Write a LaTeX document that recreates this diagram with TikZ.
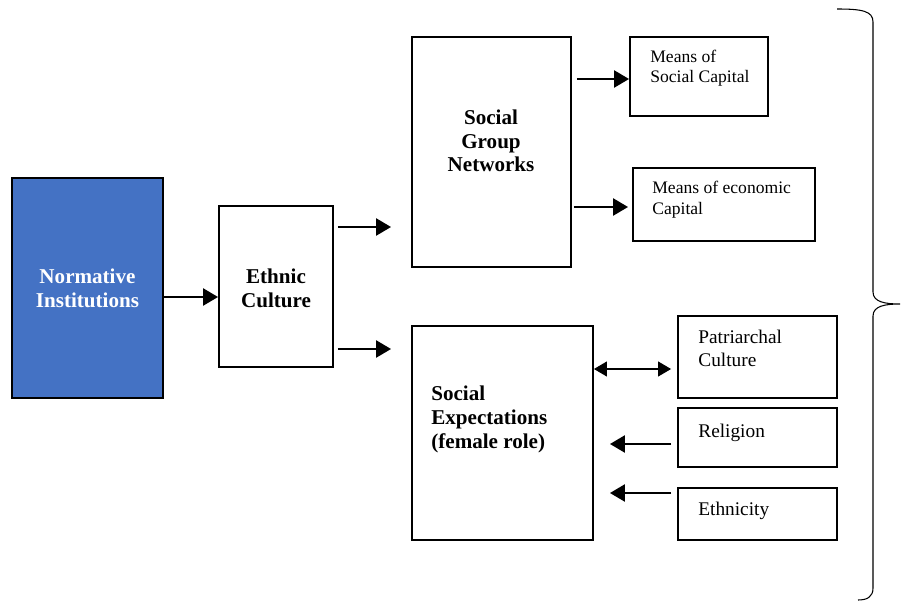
\documentclass[tikz,border=0pt]{standalone}
\usepackage{fontspec}
\setmainfont{Liberation Serif}
\usetikzlibrary{arrows.meta}
\definecolor{normblue}{RGB}{68,114,196}
\begin{document}
\begin{tikzpicture}[x = 0.02cm, y = -0.02cm,
        blk/.style = {draw, line width = 1.1pt, inner sep = 0pt},
        boldlbl/.style = {font = \fontsize{12}{13.6}\selectfont\bfseries, inner sep = 0pt},
        smalllbl/.style = {font = \fontsize{10}{11.5}\selectfont, align = left, inner sep = 0pt, anchor = base west},
        midlbl/.style = {font = \fontsize{11}{12.6}\selectfont, align = left, inner sep = 0pt, anchor = base west},
        thickarr/.style = {line width = 1.4pt, -{Triangle[length = 0.3cm, width = 0.34cm]}},
        dblarr/.style = {line width = 0.6pt, {Triangle[length = 0.26cm, width = 0.3cm]}-{Triangle[length = 0.26cm, width = 0.3cm]}}]
    \useasboundingbox (0,0) rectangle (901,601);
    \node[blk, fill = normblue, minimum width = 3.02cm, minimum height = 4.4cm] (norm) at (87.5, 288) {};
    \node[blk, minimum width = 2.28cm, minimum height = 3.22cm] (ethnic) at (276, 286.5) {};
    \node[blk, minimum width = 3.18cm, minimum height = 4.6cm] (sgn) at (491.5, 152) {};
    \node[blk, minimum width = 3.62cm, minimum height = 4.28cm] (se) at (502.5, 433) {};
    \node[blk, minimum width = 2.76cm, minimum height = 1.58cm] (msc) at (699, 76.5) {};
    \node[blk, minimum width = 3.64cm, minimum height = 1.45cm] (mec) at (724, 204.5) {};
    \node[blk, minimum width = 3.18cm, minimum height = 1.64cm] (patr) at (757.5, 357) {};
    \node[blk, minimum width = 3.18cm, minimum height = 1.18cm] (rel) at (757.5, 437.5) {};
    \node[blk, minimum width = 3.18cm, minimum height = 1.04cm] (eth) at (757.5, 514) {};
    \begin{scope}[align = center]
        \node[boldlbl, white, anchor = base] (normtext) at (87.5, 307) {Normative\\Institutions};
        \node[boldlbl, anchor = base] (ethnictext) at (276, 307) {Ethnic\\Culture};
        \node[boldlbl, anchor = base] (sgntext) at (491, 172) {Social\\Group\\Networks};
    \end{scope}
    \node[boldlbl, align = left, anchor = base west] (setext) at (431, 448) {Social\\Expectations\\(female role)};
    \node[smalllbl] (msctext) at (650, 83) {Means of\\Social Capital};
    \node[smalllbl] (mectext) at (652, 214) {Means of economic\\Capital};
    \node[midlbl] (patrtext) at (698, 366) {Patriarchal\\Culture};
    \node[midlbl] (reltext) at (698, 437) {Religion};
    \node[midlbl] (ethtext) at (698, 515) {Ethnicity};
    \draw[thickarr] (norm.east |- 0,297) -- (ethnic.west |- 0,297);
    \draw[thickarr] ([xshift = 0.08cm]ethnic.east |- 0,227) -- ([xshift = -0.4cm]sgn.west |- 0,227);
    \draw[thickarr] ([xshift = 0.08cm]ethnic.east |- 0,349) -- ([xshift = -0.4cm]se.west |- 0,349);
    \draw[thickarr] ([xshift = 0.1cm]sgn.east |- 0,79) -- (msc.west |- 0,79);
    \draw[thickarr] ([xshift = 0.04cm]sgn.east |- 0,207) -- ([xshift = -0.08cm]mec.west |- 0,207);
    \draw[dblarr] (se.east |- 0,369) -- ([xshift = -0.12cm]patr.west |- 0,369);
    \draw[thickarr] ([xshift = -0.12cm]rel.west |- 0,444) -- ([xshift = 0.32cm]se.east |- 0,444);
    \draw[thickarr] ([xshift = -0.12cm]eth.west |- 0,493) -- ([xshift = 0.32cm]se.east |- 0,493);
    \draw[line width = 0.6pt] (837,9) .. controls (862,9) and (873,11) .. (873,22) -- (873,292)
        .. controls (873,302) and (885,304) .. (900,304)
        .. controls (885,304) and (873,306) .. (873,316) -- (873,588)
        .. controls (873,597) and (867,600) .. (858,600);
\end{tikzpicture}
\end{document}
